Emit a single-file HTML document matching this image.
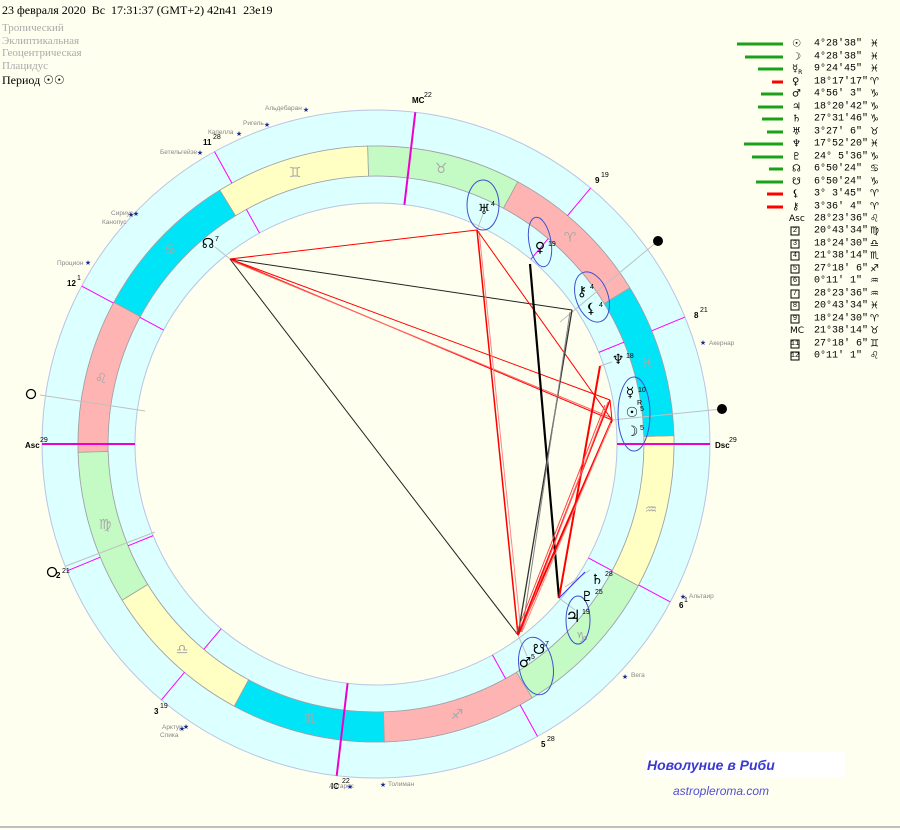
<!DOCTYPE html>
<html><head><meta charset="utf-8">
<style>
html,body{margin:0;padding:0;background:#ffffef;width:900px;height:830px;overflow:hidden}
body{position:relative;font-family:"Liberation Serif","DejaVu Serif",serif}
.t{position:absolute;white-space:nowrap}
</style></head><body>
<div class="t" style="left:2px;top:3px;font-size:12px;color:#000">23 февраля 2020&nbsp; Вс&nbsp; 17:31:37 (GMT+2) 42n41&nbsp; 23e19</div>
<div class="t" style="left:2px;top:22px;font-size:11px;color:#aaa;line-height:12.7px">Тропический<br>Эклиптикальная<br>Геоцентрическая<br>Плацидус</div>
<div class="t" style="left:2px;top:73px;font-size:12px;color:#000">Период ☉☉</div>

<svg width="900" height="830" style="position:absolute;left:0;top:0" xmlns="http://www.w3.org/2000/svg">
<g stroke="#b8c4e4" stroke-width="1">
<circle cx="376" cy="444" r="334" fill="#dcffff"/>
<circle cx="376" cy="444" r="298" fill="#dcffff"/>
<circle cx="376" cy="444" r="268" fill="#dcffff"/>
<circle cx="376" cy="444" r="241" fill="#ffffef"/>
</g>
<g stroke="#a0a0a0" stroke-width="0.8">
<path fill="#ffb4b4" d="M629.8,287.8 A298,298 0 0 0 517.7,181.8 L503.4,208.2 A268,268 0 0 1 604.3,303.5Z"/>
<path fill="#c4fac4" d="M517.7,181.8 A298,298 0 0 0 367.6,146.1 L368.5,176.1 A268,268 0 0 1 503.4,208.2Z"/>
<path fill="#ffffc4" d="M367.6,146.1 A298,298 0 0 0 219.8,190.2 L235.5,215.7 A268,268 0 0 1 368.5,176.1Z"/>
<path fill="#00e4f8" d="M219.8,190.2 A298,298 0 0 0 113.8,302.3 L140.2,316.6 A268,268 0 0 1 235.5,215.7Z"/>
<path fill="#ffb4b4" d="M113.8,302.3 A298,298 0 0 0 78.1,452.4 L108.1,451.5 A268,268 0 0 1 140.2,316.6Z"/>
<path fill="#c4fac4" d="M78.1,452.4 A298,298 0 0 0 122.2,600.2 L147.7,584.5 A268,268 0 0 1 108.1,451.5Z"/>
<path fill="#ffffc4" d="M122.2,600.2 A298,298 0 0 0 234.3,706.2 L248.6,679.8 A268,268 0 0 1 147.7,584.5Z"/>
<path fill="#00e4f8" d="M234.3,706.2 A298,298 0 0 0 384.4,741.9 L383.5,711.9 A268,268 0 0 1 248.6,679.8Z"/>
<path fill="#ffb4b4" d="M384.4,741.9 A298,298 0 0 0 532.2,697.8 L516.5,672.3 A268,268 0 0 1 383.5,711.9Z"/>
<path fill="#c4fac4" d="M532.2,697.8 A298,298 0 0 0 638.2,585.7 L611.8,571.4 A268,268 0 0 1 516.5,672.3Z"/>
<path fill="#ffffc4" d="M638.2,585.7 A298,298 0 0 0 673.9,435.6 L643.9,436.5 A268,268 0 0 1 611.8,571.4Z"/>
<path fill="#00e4f8" d="M673.9,435.6 A298,298 0 0 0 629.8,287.8 L604.3,303.5 A268,268 0 0 1 643.9,436.5Z"/>
</g>
<g font-family="DejaVu Sans,sans-serif" font-size="14" fill="#a8a8a8" text-anchor="middle" dominant-baseline="central">
<text x="570" y="238">♈</text><text x="441" y="169">♉</text><text x="295" y="173">♊</text><text x="170" y="250">♋</text>
<text x="101" y="379">♌</text><text x="105" y="525">♍</text><text x="182" y="650">♎</text><text x="310" y="719">♏</text>
<text x="457" y="715">♐</text><text x="582" y="638">♑</text><text x="651" y="510">♒</text><text x="647" y="363">♓</text>
</g>
<g stroke="#c0c0c0" stroke-width="1">
<line x1="40" y1="395" x2="145" y2="411"/>
<line x1="66" y1="566" x2="155" y2="532"/>
<line x1="560" y1="322" x2="658" y2="241"/>
<line x1="612" y1="420" x2="722" y2="409"/>
<line x1="230" y1="259" x2="215" y2="247"/>
<line x1="477" y1="230" x2="483" y2="214"/>
<line x1="600" y1="366" x2="612" y2="362"/>
<line x1="518" y1="635" x2="527" y2="656"/>
<line x1="559" y1="598" x2="575" y2="610"/>
<line x1="565" y1="587" x2="590" y2="570"/>
</g>
<circle cx="658" cy="241" r="5" fill="#000"/>
<circle cx="722" cy="409" r="5" fill="#000"/>
<circle cx="31" cy="394" r="4.5" fill="none" stroke="#000" stroke-width="1.3"/>
<circle cx="52" cy="572" r="4.5" fill="none" stroke="#000" stroke-width="1.3"/>
<g stroke="#ff00ff" stroke-width="1">
<line x1="67" y1="570.9" x2="100.3" y2="557.2"/><line x1="128.1" y1="545.8" x2="153.1" y2="535.6"/>
<line x1="161.4" y1="699.9" x2="184.5" y2="672.3"/><line x1="203.8" y1="649.3" x2="221.2" y2="628.7"/>
<line x1="537.5" y1="736.4" x2="520.1" y2="704.9"/><line x1="505.6" y1="678.6" x2="492.5" y2="655"/>
<line x1="670.3" y1="601.9" x2="638.6" y2="584.9"/><line x1="612.2" y1="570.7" x2="588.4" y2="557.9"/>
<line x1="684.9" y1="317.1" x2="651.7" y2="330.8"/><line x1="623.9" y1="342.2" x2="598.9" y2="352.4"/>
<line x1="590.6" y1="188.1" x2="567.5" y2="215.7"/><line x1="548.2" y1="238.7" x2="530.8" y2="259.3"/>
<line x1="214.5" y1="151.6" x2="231.9" y2="183.1"/><line x1="246.4" y1="209.4" x2="259.5" y2="233"/>
<line x1="81.7" y1="286.1" x2="113.4" y2="303.1"/><line x1="139.8" y1="317.3" x2="163.6" y2="330.1"/>
</g>
<g stroke="#ee00cc" stroke-width="2">
<line x1="42" y1="444" x2="135" y2="444"/>
<line x1="617" y1="444" x2="710" y2="444"/>
<line x1="415.3" y1="112.3" x2="404.4" y2="204.7"/>
<line x1="336.7" y1="775.7" x2="347.6" y2="683.3"/>
</g>
<g fill="none" stroke-width="1">
<line x1="230" y1="259" x2="477" y2="230" stroke="#f00"/>
<line x1="230" y1="259" x2="572" y2="310" stroke="#222"/>
<line x1="230" y1="259" x2="518" y2="635" stroke="#222"/>
<line x1="230" y1="259" x2="610" y2="400" stroke="#f00"/>
<line x1="230" y1="259" x2="612" y2="420" stroke="#f00"/>
<line x1="232" y1="261" x2="612" y2="418" stroke="#f66"/>
<line x1="477" y1="230" x2="518" y2="635" stroke="#f00" stroke-width="1.5"/>
<line x1="479" y1="231" x2="521" y2="632" stroke="#f88"/>
<line x1="477" y1="230" x2="612" y2="420" stroke="#f00"/>
<line x1="530" y1="264" x2="559" y2="598" stroke="#000" stroke-width="2.2"/>
<line x1="572" y1="310" x2="518" y2="635" stroke="#333" stroke-width="1.3"/>
<line x1="570" y1="312" x2="522" y2="632" stroke="#888"/>
<line x1="600" y1="366" x2="559" y2="598" stroke="#f00" stroke-width="2"/>
<line x1="518" y1="635" x2="610" y2="400" stroke="#f00" stroke-width="1.5"/>
<line x1="518" y1="635" x2="612" y2="420" stroke="#f00" stroke-width="2"/>
<line x1="521" y1="632" x2="608" y2="402" stroke="#f66"/>
<line x1="523" y1="630" x2="611" y2="423" stroke="#f88"/>
<line x1="516" y1="634" x2="605" y2="405" stroke="#f44"/>
<line x1="610" y1="400" x2="612" y2="420" stroke="#f00"/>
<line x1="559" y1="598" x2="585" y2="572" stroke="#33f"/>
</g>
<g fill="none" stroke="#4050d0" stroke-width="1">
<ellipse cx="483" cy="205" rx="16" ry="25"/>
<ellipse cx="540" cy="242" rx="11" ry="25" transform="rotate(-10 540 242)"/>
<ellipse cx="592" cy="297" rx="16" ry="26" transform="rotate(-20 592 297)"/>
<ellipse cx="634" cy="414" rx="16" ry="37"/>
<ellipse cx="578" cy="620" rx="12" ry="24"/>
<ellipse cx="536" cy="666" rx="17" ry="29" transform="rotate(-10 536 666)"/>
</g>
<g font-family="DejaVu Sans,sans-serif" fill="#000" text-anchor="middle" dominant-baseline="central" font-size="14">
<text x="484" y="210">♅</text><text x="540" y="248">♀</text><text x="582" y="292">⚷</text><text x="591" y="309">⚸</text>
<text x="618" y="360">♆</text><text x="630" y="393">☿</text><text x="632" y="413">☉</text><text x="632" y="432">☽</text>
<text x="597" y="580">♄</text><text x="587" y="597">♇</text><text x="573" y="617" font-size="17">♃</text>
<text x="525" y="663">♂</text><text x="539" y="650">☋</text><text x="208" y="244">☊</text>
</g>
<g font-family="Liberation Sans,sans-serif" font-size="7" fill="#000">
<text x="491" y="206">4</text><text x="548" y="246">19</text><text x="590" y="289">4</text><text x="599" y="307">4</text>
<text x="626" y="358">18</text><text x="638" y="392">10</text><text x="637" y="405">R</text><text x="640" y="411">5</text><text x="640" y="430">5</text>
<text x="605" y="576">28</text><text x="595" y="594">25</text><text x="582" y="614">19</text>
<text x="531" y="659">5</text><text x="545" y="646">7</text><text x="215" y="241">7</text>
</g>
<g font-family="Liberation Sans,sans-serif" font-size="8" fill="#000" font-weight="bold">
<text x="412" y="103">MC</text><text x="424" y="97" font-size="7" font-weight="normal">22</text>
<text x="203" y="145">11</text><text x="213" y="139" font-size="7" font-weight="normal">28</text>
<text x="67" y="286">12</text><text x="77" y="280" font-size="7" font-weight="normal">1</text>
<text x="25" y="448">Asc</text><text x="40" y="442" font-size="7" font-weight="normal">29</text>
<text x="56" y="578">2</text><text x="62" y="573" font-size="7" font-weight="normal">21</text>
<text x="154" y="714">3</text><text x="160" y="708" font-size="7" font-weight="normal">19</text>
<text x="331" y="789">IC</text><text x="342" y="783" font-size="7" font-weight="normal">22</text>
<text x="541" y="747">5</text><text x="547" y="741" font-size="7" font-weight="normal">28</text>
<text x="679" y="608">6</text><text x="684" y="602" font-size="7" font-weight="normal">1</text>
<text x="715" y="448">Dsc</text><text x="729" y="442" font-size="7" font-weight="normal">29</text>
<text x="694" y="318">8</text><text x="700" y="312" font-size="7" font-weight="normal">21</text>
<text x="595" y="183">9</text><text x="601" y="177" font-size="7" font-weight="normal">19</text>
</g>
<g font-family="Liberation Sans,sans-serif" font-size="6.5" fill="#888">
<text x="265" y="110">Альдебаран</text><text x="243" y="125">Ригель</text><text x="208" y="134">Капелла</text>
<text x="160" y="154">Бетельгейзе</text><text x="111" y="215">Сириус</text><text x="102" y="224">Канопус</text>
<text x="57" y="265">Процион</text><text x="709" y="345">Акернар</text><text x="689" y="598">Альтаир</text>
<text x="631" y="677">Вега</text><text x="388" y="786">Толиман</text><text x="329" y="788">Антарес</text>
<text x="162" y="729">Арктур</text><text x="160" y="737">Спика</text>
</g>
<g font-family="DejaVu Sans,sans-serif" font-size="7" fill="#1a2a90" text-anchor="middle">
<text x="306" y="112">★</text><text x="267" y="127">★</text><text x="239" y="136">★</text><text x="200" y="155">★</text>
<text x="131" y="217">★</text><text x="136" y="216">★</text><text x="88" y="265">★</text><text x="703" y="345">★</text>
<text x="683" y="599">★</text><text x="625" y="679">★</text><text x="383" y="787">★</text><text x="350" y="789">★</text>
<text x="182" y="731">★</text><text x="186" y="729">★</text>
</g>
<g stroke-width="3">
<line x1="737" y1="44" x2="783" y2="44" stroke="#1aa01a"/>
<line x1="745" y1="57" x2="783" y2="57" stroke="#1aa01a"/>
<line x1="758" y1="69" x2="783" y2="69" stroke="#1aa01a"/>
<line x1="772" y1="82" x2="783" y2="82" stroke="#f00"/>
<line x1="761" y1="94" x2="783" y2="94" stroke="#1aa01a"/>
<line x1="758" y1="107" x2="783" y2="107" stroke="#1aa01a"/>
<line x1="762" y1="119" x2="783" y2="119" stroke="#1aa01a"/>
<line x1="767" y1="132" x2="783" y2="132" stroke="#1aa01a"/>
<line x1="744" y1="144" x2="783" y2="144" stroke="#1aa01a"/>
<line x1="752" y1="157" x2="783" y2="157" stroke="#1aa01a"/>
<line x1="769" y1="169" x2="783" y2="169" stroke="#1aa01a"/>
<line x1="756" y1="182" x2="783" y2="182" stroke="#1aa01a"/>
<line x1="767" y1="194" x2="783" y2="194" stroke="#f00"/>
<line x1="767" y1="207" x2="783" y2="207" stroke="#f00"/>
</g>
<g font-family="DejaVu Sans,sans-serif" font-size="10" fill="#000" dominant-baseline="central">
<text x="792" y="44">☉</text><text x="792" y="57">☽</text><text x="792" y="69">☿<tspan font-size="6" dy="3">R</tspan></text><text x="792" y="82">♀</text>
<text x="792" y="94">♂</text><text x="792" y="107">♃</text><text x="792" y="119">♄</text><text x="792" y="132">♅</text>
<text x="792" y="144">♆</text><text x="792" y="157">♇</text><text x="792" y="169">☊</text><text x="792" y="182">☋</text>
<text x="792" y="194">⚸</text><text x="792" y="207">⚷</text>
<text x="789" y="219" font-size="9">Asc</text><text x="790" y="331" font-size="9">MC</text>
</g>
<g fill="none" stroke="#000" stroke-width="1">
<rect x="791" y="227" width="8" height="8"/><rect x="791" y="240" width="8" height="8"/><rect x="791" y="252" width="8" height="8"/>
<rect x="791" y="265" width="8" height="8"/><rect x="791" y="277" width="8" height="8"/><rect x="791" y="290" width="8" height="8"/>
<rect x="791" y="302" width="8" height="8"/><rect x="791" y="315" width="8" height="8"/>
<rect x="791" y="340" width="8" height="8"/><rect x="791" y="352" width="8" height="8"/>
</g>
<g font-family="Liberation Mono,monospace" font-size="7" fill="#000" text-anchor="middle" dominant-baseline="central">
<text x="795" y="231">2</text><text x="795" y="244">3</text><text x="795" y="256">4</text><text x="795" y="269">5</text><text x="795" y="281">6</text>
<text x="795" y="294">7</text><text x="795" y="306">8</text><text x="795" y="319">9</text><text x="795" y="344">11</text><text x="795" y="356">12</text>
</g>
<g font-family="Liberation Mono,monospace" font-size="10" fill="#000" dominant-baseline="central" xml:space="preserve">
<text x="814" y="44"> 4°28'38"</text><text x="814" y="57"> 4°28'38"</text><text x="814" y="69"> 9°24'45"</text><text x="814" y="82">18°17'17"</text>
<text x="814" y="94"> 4°56' 3"</text><text x="814" y="107">18°20'42"</text><text x="814" y="119">27°31'46"</text><text x="814" y="132"> 3°27' 6"</text>
<text x="814" y="144">17°52'20"</text><text x="814" y="157">24° 5'36"</text><text x="814" y="169"> 6°50'24"</text><text x="814" y="182"> 6°50'24"</text>
<text x="814" y="194"> 3° 3'45"</text><text x="814" y="207"> 3°36' 4"</text><text x="814" y="219">28°23'36"</text><text x="814" y="231">20°43'34"</text>
<text x="814" y="244">18°24'30"</text><text x="814" y="256">21°38'14"</text><text x="814" y="269">27°18' 6"</text><text x="814" y="281"> 0°11' 1"</text>
<text x="814" y="294">28°23'36"</text><text x="814" y="306">20°43'34"</text><text x="814" y="319">18°24'30"</text><text x="814" y="331">21°38'14"</text>
<text x="814" y="344">27°18' 6"</text><text x="814" y="356"> 0°11' 1"</text>
</g>
<g font-family="DejaVu Sans,sans-serif" font-size="10" fill="#000" dominant-baseline="central">
<text x="870" y="44">♓</text><text x="870" y="57">♓</text><text x="870" y="69">♓</text><text x="870" y="82">♈</text>
<text x="870" y="94">♑</text><text x="870" y="107">♑</text><text x="870" y="119">♑</text><text x="870" y="132">♉</text>
<text x="870" y="144">♓</text><text x="870" y="157">♑</text><text x="870" y="169">♋</text><text x="870" y="182">♑</text>
<text x="870" y="194">♈</text><text x="870" y="207">♈</text><text x="870" y="219">♌</text><text x="870" y="231">♍</text>
<text x="870" y="244">♎</text><text x="870" y="256">♏</text><text x="870" y="269">♐</text><text x="870" y="281">♒</text>
<text x="870" y="294">♒</text><text x="870" y="306">♓</text><text x="870" y="319">♈</text><text x="870" y="331">♉</text>
<text x="870" y="344">♊</text><text x="870" y="356">♌</text>
</g>
<rect x="646" y="752" width="199" height="25" fill="#fff"/>
<text x="647" y="770" font-family="Liberation Sans,sans-serif" font-size="14" font-weight="bold" font-style="italic" fill="#3a3ad0">Новолуние в Риби</text>
<text x="673" y="795" font-family="Liberation Sans,sans-serif" font-size="12" font-style="italic" fill="#5050d0">astropleroma.com</text>
<line x1="0" y1="827" x2="900" y2="827" stroke="#c0c0c0" stroke-width="2"/>
</svg>
</body></html>
